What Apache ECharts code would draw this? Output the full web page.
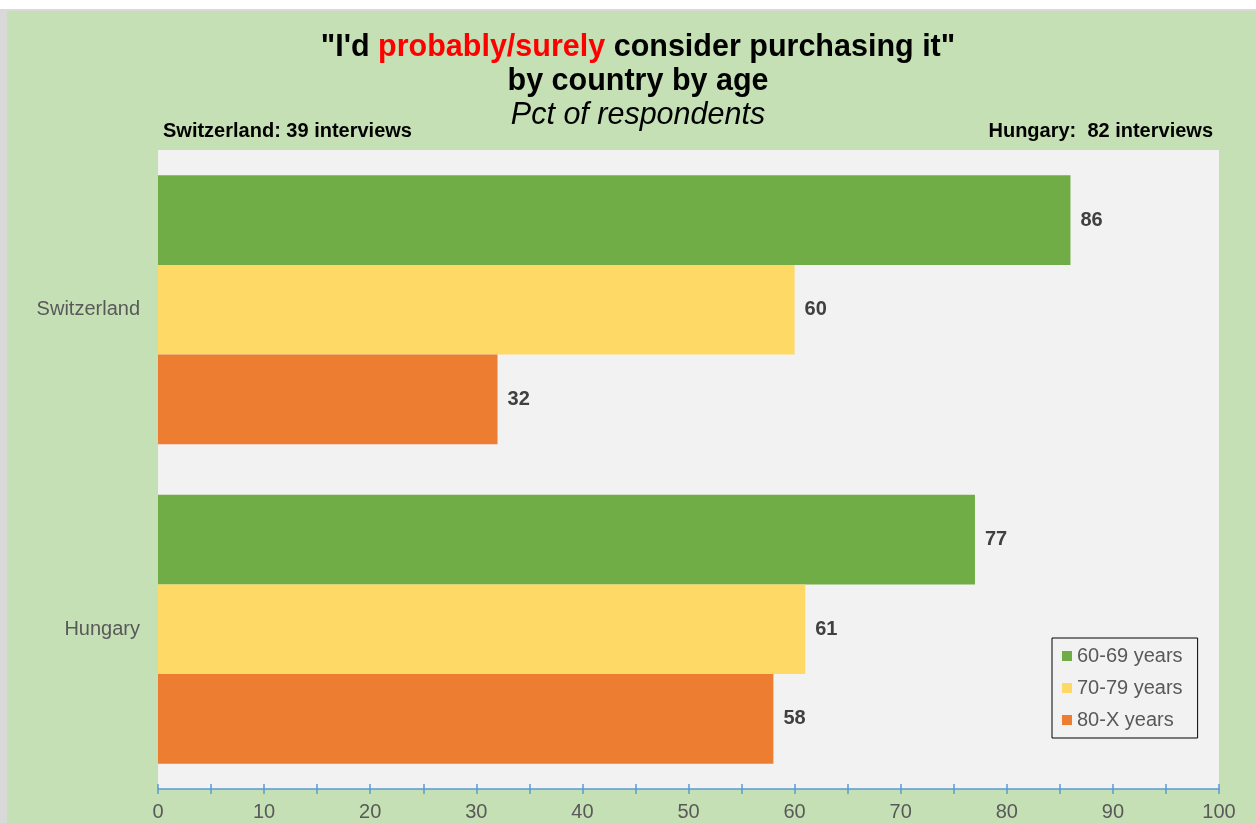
<!DOCTYPE html>
<html>
<head>
<meta charset="utf-8">
<script src="https://cdn.jsdelivr.net/npm/echarts@6/dist/echarts.min.js"></script>
<style>
  html, body { margin: 0; padding: 0; background: #ffffff; }
  #chart { width: 1256px; height: 823px; }
</style>
</head>
<body>
<div id="chart"></div>
<script>
// Survey answers: share of respondents who would probably/surely consider purchasing
const categories = ['Switzerland', 'Hungary'];
const seriesNames = ['60-69 years', '70-79 years', '80-X years'];
const values6069 = [86, 77];
const values7079 = [60, 61];
const values80X = [32, 58];
const interviewNotes = ['Switzerland: 39 interviews', 'Hungary:  82 interviews'];
const xTicks = [0, 10, 20, 30, 40, 50, 60, 70, 80, 90, 100];

const colors = ['#70ad47', '#ffd966', '#ed7d31'];
const seriesValues = [values6069, values7079, values80X];
const FONT = 'Liberation Sans, Arial, sans-serif';

const chart = echarts.init(document.getElementById('chart'), null, { renderer: 'canvas' });

const labelStyle = {
  show: true,
  position: 'right',
  distance: 10,
  fontFamily: FONT,
  fontSize: 20,
  fontWeight: 'bold',
  color: '#404040'
};

const series = seriesNames.map((name, i) => ({
  name: name,
  type: 'bar',
  data: seriesValues[i],
  itemStyle: { color: colors[i] },
  barGap: '0%',
  barCategoryGap: '15.8%',
  label: labelStyle,
  emphasis: { disabled: true }
}));

const axisBase = {
  type: 'value',
  min: xTicks[0],
  max: xTicks[xTicks.length - 1],
  interval: xTicks[1] - xTicks[0],
  splitLine: { show: false }
};

const tickLine = { color: '#5b9bd5', width: 1.5 };

chart.setOption({
  backgroundColor: '#c5e0b4',
  animation: false,
  textStyle: { fontFamily: FONT },
  title: {
    left: 633,
    textAlign: 'center',
    top: 26,
    text: '{b|"I\'d }{r|probably/surely}{b| consider purchasing it"}\n{b|by country by age}\n{i|Pct of respondents}',
    textStyle: {
      rich: {
        b: { fontSize: 30.5, fontWeight: 'bold', color: '#000000', lineHeight: 34, fontFamily: FONT },
        r: { fontSize: 30.5, fontWeight: 'bold', color: '#ff0000', lineHeight: 34, fontFamily: FONT },
        i: { fontSize: 30.5, fontWeight: 'normal', fontStyle: 'italic', color: '#000000', lineHeight: 33, fontFamily: FONT }
      }
    }
  },
  graphic: [
    { type: 'rect', left: 0, top: 0, shape: { width: 1256, height: 9 }, style: { fill: '#ffffff' }, silent: true },
    { type: 'rect', left: 0, top: 9, shape: { width: 1256, height: 2 }, style: { fill: '#d9d9d9' }, silent: true },
    { type: 'rect', left: 0, top: 9, shape: { width: 7, height: 814 }, style: { fill: '#d9d9d9' }, silent: true },
    {
      type: 'text', left: 163, top: 121,
      style: { text: interviewNotes[0], fontSize: 20, fontWeight: 'bold', fill: '#000000', fontFamily: FONT }
    },
    {
      type: 'text', right: 43, top: 121,
      style: { text: interviewNotes[1], fontSize: 20, fontWeight: 'bold', fill: '#000000', fontFamily: FONT }
    }
  ],
  legend: {
    data: seriesNames,
    orient: 'vertical',
    left: 1052,
    top: 638,
    itemWidth: 10,
    itemHeight: 10,
    itemGap: 12,
    icon: 'rect',
    padding: [8, 15, 8, 10],
    backgroundColor: '#f2f2f2',
    borderColor: '#000000',
    borderWidth: 1,
    borderRadius: 0,
    textStyle: { fontSize: 20, color: '#595959', fontFamily: FONT }
  },
  grid: {
    left: 158,
    right: 37,
    top: 150,
    bottom: 34,
    show: true,
    backgroundColor: '#f2f2f2',
    borderWidth: 0
  },
  xAxis: [
    Object.assign({}, axisBase, {
      position: 'bottom',
      axisLine: { show: true, lineStyle: tickLine },
      axisTick: { show: true, length: 5, lineStyle: tickLine },
      minorTick: { show: true, splitNumber: 2, length: 5, lineStyle: tickLine },
      axisLabel: { margin: 13, fontSize: 20, color: '#595959', fontFamily: FONT }
    }),
    Object.assign({}, axisBase, {
      position: 'bottom',
      axisLine: { show: false },
      axisTick: { show: true, inside: true, length: 5, lineStyle: tickLine },
      minorTick: { show: true, splitNumber: 2, length: 5, lineStyle: tickLine },
      axisLabel: { show: false }
    })
  ],
  yAxis: {
    type: 'category',
    data: categories,
    inverse: true,
    axisLine: { show: false },
    axisTick: { show: false },
    axisLabel: { margin: 18, fontSize: 20, color: '#595959', fontFamily: FONT }
  },
  series: series
});
</script>
</body>
</html>
